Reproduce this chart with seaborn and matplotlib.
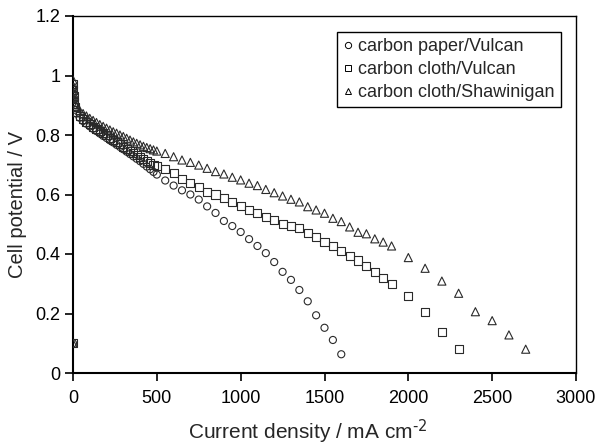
import matplotlib
matplotlib.use("Agg")
import matplotlib.pyplot as plt
from matplotlib.lines import Line2D
import seaborn as sns
import pandas as pd

# ---- data -------------------------------------------------------------
low_current = [0, 0, 2, 4, 6, 10, 20, 40, 60, 80, 100, 120, 140, 160, 180, 200,
               220, 240, 260, 280, 300, 320, 340, 360, 380, 400, 420, 440, 460, 480]
mid_current = [500, 550, 600, 650, 700, 750, 800, 850, 900, 950, 1000, 1050, 1100,
               1150, 1200, 1250, 1300, 1350, 1400, 1450, 1500, 1550, 1600, 1650,
               1700, 1750, 1800, 1850, 1900]

paper_vulcan_current = low_current + mid_current[:23]
paper_vulcan_potential = [
    0.10, 0.96, 0.94, 0.92, 0.90, 0.885, 0.872, 0.858, 0.847, 0.838, 0.829, 0.821,
    0.813, 0.805, 0.797, 0.790, 0.782, 0.775, 0.767, 0.760, 0.752, 0.744, 0.736,
    0.728, 0.720, 0.712, 0.703, 0.694, 0.685, 0.676,
    0.667, 0.647, 0.630, 0.614, 0.600, 0.583, 0.560, 0.538, 0.511, 0.494, 0.474,
    0.450, 0.427, 0.403, 0.373, 0.340, 0.313, 0.279, 0.241, 0.194, 0.152, 0.111,
    0.063]

cloth_vulcan_current = low_current + mid_current + [2000, 2100, 2200, 2300]
cloth_vulcan_potential = [
    0.10, 0.97, 0.95, 0.93, 0.91, 0.895, 0.878, 0.865, 0.854, 0.844, 0.836, 0.828,
    0.821, 0.814, 0.806, 0.799, 0.791, 0.784, 0.776, 0.769, 0.761, 0.753, 0.746,
    0.738, 0.732, 0.725, 0.718, 0.712, 0.706, 0.700,
    0.695, 0.685, 0.671, 0.652, 0.640, 0.624, 0.608, 0.600, 0.587, 0.576, 0.561,
    0.548, 0.537, 0.525, 0.514, 0.501, 0.495, 0.486, 0.472, 0.456, 0.439, 0.427,
    0.411, 0.394, 0.378, 0.361, 0.341, 0.318, 0.299,
    0.259, 0.206, 0.139, 0.080]

cloth_shaw_current = low_current + mid_current + [2000, 2100, 2200, 2300, 2400,
                                                  2500, 2600, 2700]
cloth_shaw_potential = [
    0.10, 0.985, 0.96, 0.94, 0.925, 0.91, 0.895, 0.882, 0.872, 0.864, 0.856, 0.849,
    0.842, 0.835, 0.829, 0.823, 0.817, 0.811, 0.806, 0.800, 0.795, 0.789, 0.783,
    0.777, 0.772, 0.767, 0.762, 0.758, 0.754, 0.750,
    0.746, 0.738, 0.727, 0.716, 0.708, 0.699, 0.688, 0.677, 0.669, 0.658, 0.649,
    0.638, 0.630, 0.617, 0.606, 0.595, 0.584, 0.575, 0.559, 0.548, 0.537, 0.520,
    0.509, 0.491, 0.473, 0.468, 0.451, 0.440, 0.427,
    0.388, 0.352, 0.309, 0.268, 0.206, 0.176, 0.128, 0.080]

series_names = ["carbon paper/Vulcan", "carbon cloth/Vulcan", "carbon cloth/Shawinigan"]
x_ticks = [0, 500, 1000, 1500, 2000, 2500, 3000]
y_ticks = [0, 0.2, 0.4, 0.6, 0.8, 1.0, 1.2]
y_tick_labels = ["0", "0.2", "0.4", "0.6", "0.8", "1", "1.2"]

# ---- frame ------------------------------------------------------------
frames = []
for name, xs, ys in zip(series_names,
                        [paper_vulcan_current, cloth_vulcan_current, cloth_shaw_current],
                        [paper_vulcan_potential, cloth_vulcan_potential, cloth_shaw_potential]):
    frames.append(pd.DataFrame({"current": xs, "potential": ys, "series": name}))
df = pd.concat(frames, ignore_index=True)

sns.set_style("white")
plt.rcParams["font.family"] = ["Liberation Sans", "DejaVu Sans"]
plt.rcParams["mathtext.default"] = "regular"

fig = plt.figure(figsize=(5.97, 4.46), dpi=100)
ax = fig.add_axes([73 / 597, 1 - 373 / 446, (576 - 73) / 597, (373 - 16) / 446])

markers = {series_names[0]: "o", series_names[1]: "s", series_names[2]: "^"}
sizes = {series_names[0]: 26, series_names[1]: 34, series_names[2]: 34}
for name in series_names:
    sub = df[df["series"] == name]
    sns.scatterplot(data=sub, x="current", y="potential", marker=markers[name],
                    s=sizes[name], facecolor="none", edgecolor="#2a2a2a",
                    linewidth=0.8, ax=ax, legend=False, zorder=3)
for coll in ax.collections:
    coll.set_facecolor("none")
    coll.set_edgecolor("#2a2a2a")

ax.set_xlim(0, 3000)
ax.set_ylim(0, 1.2)
ax.set_xticks(x_ticks)
ax.set_yticks(y_ticks)
ax.set_yticklabels(y_tick_labels)
ax.tick_params(axis="both", direction="out", length=6, width=1.2, colors="black",
               labelsize=13, left=True, bottom=True)
ax.tick_params(axis="x", pad=6)
ax.tick_params(axis="y", pad=3)
for side in ["left", "bottom"]:
    ax.spines[side].set_linewidth(1.5)
    ax.spines[side].set_color("black")
for side in ["top", "right"]:
    ax.spines[side].set_linewidth(1.0)
    ax.spines[side].set_color("black")

ax.set_xlabel(r"Current density / mA cm$^{\text{-2}}$", fontsize=15)
ax.set_ylabel("Cell potential / V", fontsize=14.5)
ax.xaxis.set_label_coords(0.466, -0.125)
ax.yaxis.set_label_coords(-0.092, 0.473)

handles = [Line2D([], [], linestyle="none", marker=markers[n], markersize=4.5,
                  markerfacecolor="none", markeredgecolor="black",
                  markeredgewidth=0.7) for n in series_names]
leg = ax.legend(handles, series_names, loc="upper right",
                bbox_to_anchor=(0.97, 0.955), fontsize=13, frameon=True,
                fancybox=False, framealpha=1, edgecolor="black",
                handlelength=0.5, handletextpad=0.3, borderpad=0.35,
                labelspacing=0.32, borderaxespad=0)
leg.get_frame().set_linewidth(1.0)

fig.savefig("out.png", dpi=100)
